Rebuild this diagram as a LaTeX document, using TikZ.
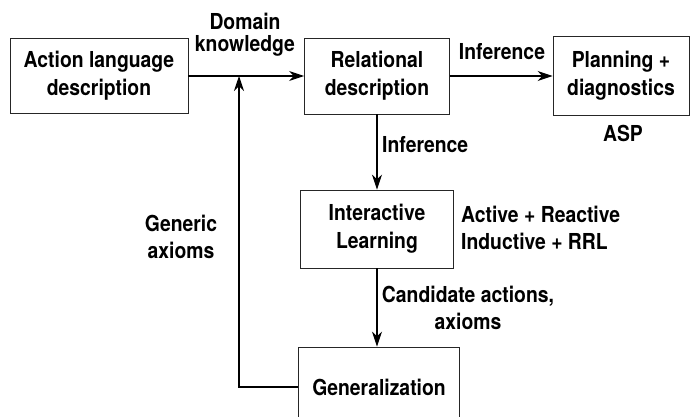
\documentclass[tikz,border=0pt]{standalone}
\usepackage{fontspec}
\setmainfont{TeX Gyre Heros}[FakeStretch=0.88]
\usetikzlibrary{arrows.meta}

\tikzset{
  stagebox/.style={draw=black!85, line width=0.9pt, rectangle, inner sep=0pt,
    align=center, font=\fontsize{22}{28}\selectfont\bfseries},
  flowlabel/.style={inner sep=0pt, align=center,
    font=\fontsize{22}{27}\selectfont\bfseries},
  flow/.style={line width=1.1pt, -{Stealth[length=15pt,width=10pt]}}
}

\begin{document}
\begin{tikzpicture}[x=1pt,y=-1pt]
  \useasboundingbox (0,0) rectangle (690,417);

  % Boxes
  \node[stagebox, minimum width=178pt, minimum height=75pt] (act) at (99,76)
    {Action language\\description};
  \node[stagebox, minimum width=145pt, minimum height=76pt] (rel) at (377,76)
    {Relational\\description};
  \node[stagebox, minimum width=136pt, minimum height=79pt] (plan) at (621,76)
    {Planning +\\diagnostics};
  \node[stagebox, minimum width=153pt, minimum height=78pt] (inter) at (377,229)
    {Interactive\\Learning};
  \node[stagebox, minimum width=161pt, minimum height=80pt] (gen) at (379,387)
    {Generalization};

  % Connectors
  \coordinate (join) at (239,76);
  \draw[flow] (act.east) -- (rel.west);
  \draw[flow] (rel.east) -- (plan.west);
  \draw[flow] (rel.south) -- (inter.north);
  \draw[flow] (inter.south) -- (inter.south |- gen.north);
  \draw[flow] (gen.west) -| (join);

  % Labels
  \node[flowlabel, font=\fontsize{22}{22}\selectfont\bfseries] (dom) at (245,35)
    {Domain\\knowledge};
  \node[flowlabel] (inf1) at (502,52) {Inference};
  \node[flowlabel] (asp) at (623,133) {ASP};
  \node[flowlabel, anchor=west] (inf2) at (382,145) {Inference};
  \node[flowlabel, align=left, anchor=west] (modes) at (461,228)
    {Active + Reactive\\Inductive + RRL};
  \node[flowlabel] (ga) at (181,237) {Generic\\axioms};
  \node[flowlabel] (cand) at (468,308) {Candidate actions,\\axioms};
\end{tikzpicture}
\end{document}
